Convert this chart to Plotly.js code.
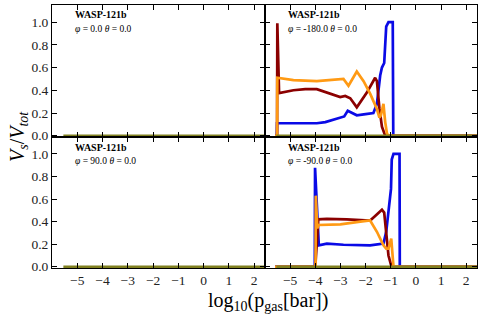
<!DOCTYPE html>
<html>
<head>
<meta charset="utf-8">
<script src="https://cdn.plot.ly/plotly-3.0.1.min.js"></script>
<style>html,body{margin:0;padding:0;background:#fff;}#chart{width:482px;height:317px;}</style>
</head>
<body>
<div id="chart"></div>
<script>
// ---- data ----
const panelTitles = ["WASP-121b", "WASP-121b", "WASP-121b", "WASP-121b"];
const panelAngles = ["<i>φ</i> = 0.0 <i>θ</i> = 0.0", "<i>φ</i> = -180.0 <i>θ</i> = 0.0",
                     "<i>φ</i> = 90.0 <i>θ</i> = 0.0", "<i>φ</i> = -90.0 <i>θ</i> = 0.0"];
const xTicks = [-5, -4, -3, -2, -1, 0, 1, 2];
const yTicks = [0, 0.2, 0.4, 0.6, 0.8, 1.0];
const yTickText = ["0.0", "0.2", "0.4", "0.6", "0.8", "1.0"];

const greenX = [-5.55, 2.5];
const greenY = [0, 0];

// phi = -180
const m180BlueX = [-5.6, -5.53, -5.52, -5.0, -4.5, -3.94, -3.6, -3.3, -3.01, -2.85, -2.71, -2.55, -2.35, -2.0, -1.69, -1.55, -1.42, -1.35, -1.26, -1.18, -1.09, -0.92, -0.90, 2.5];
const m180BlueY = [0, 0, 0.11, 0.11, 0.11, 0.11, 0.12, 0.14, 0.16, 0.17, 0.22, 0.20, 0.18, 0.19, 0.20, 0.28, 0.53, 0.60, 0.64, 0.96, 1.0, 1.0, 0, 0];
const m180RedX = [-5.6, -5.52, -5.51, -5.44, -4.87, -4.4, -3.94, -3.54, -3.01, -2.81, -2.61, -2.35, -1.95, -1.62, -1.55, -1.45, -1.35, -1.22, 2.5];
const m180RedY = [0, 0, 0.99, 0.375, 0.40, 0.41, 0.41, 0.38, 0.34, 0.35, 0.33, 0.25, 0.38, 0.51, 0.48, 0.24, 0.08, 0, 0];
const m180OrangeX = [-5.6, -5.52, -5.51, -4.87, -3.94, -3.01, -2.88, -2.68, -2.35, -2.08, -1.82, -1.55, -1.45, -1.39, -1.29, -1.22, -1.15, -1.1, 2.5];
const m180OrangeY = [0, 0, 0.51, 0.49, 0.48, 0.50, 0.50, 0.44, 0.565, 0.48, 0.37, 0.235, 0.16, 0.18, 0.28, 0.12, 0.02, 0, 0];

// phi = -90
const m90BlueX = [-5.6, -4.02, -4.01, -3.86, -3.54, -2.88, -1.82, -1.29, -1.18, -1.09, -0.99, -0.96, -0.89, -0.65, -0.64, 2.5];
const m90BlueY = [0, 0, 0.877, 0.19, 0.205, 0.195, 0.19, 0.205, 0.31, 0.48, 0.69, 0.95, 1.0, 1.0, 0, 0];
const m90RedX = [-5.6, -4.0, -3.88, -3.54, -2.75, -1.82, -1.62, -1.35, -1.26, -1.18, -1.09, -0.98, -0.95, 2.5];
const m90RedY = [0, 0, 0.42, 0.424, 0.42, 0.41, 0.45, 0.505, 0.48, 0.28, 0.10, 0.01, 0, 0];
const m90OrangeX = [-5.6, -3.99, -3.98, -3.92, -3.87, -3.0, -2.21, -1.82, -1.55, -1.29, -1.18, -1.09, -0.98, -0.89, 2.5];
const m90OrangeY = [0, 0, 0.63, 0.34, 0.37, 0.375, 0.40, 0.41, 0.31, 0.19, 0.16, 0.16, 0.25, 0, 0];

// ---- styles ----
const BLUE = "#0a0ae6", RED = "#8b0000", ORANGE = "#ff9a14", OLIVE = "#808020";
const LW = 2.7;

function line(x, y, color, xa, ya) {
  return {x: x, y: y, type: "scatter", mode: "lines", xaxis: xa, yaxis: ya,
          line: {color: color, width: LW}, hoverinfo: "skip", showlegend: false};
}

const traces = [
  line(m180BlueX, m180BlueY, BLUE, "x2", "y2"),
  line(m180RedX, m180RedY, RED, "x2", "y2"),
  line(m180OrangeX, m180OrangeY, ORANGE, "x2", "y2"),
  line(m90BlueX, m90BlueY, BLUE, "x4", "y4"),
  line(m90RedX, m90RedY, RED, "x4", "y4"),
  line(m90OrangeX, m90OrangeY, ORANGE, "x4", "y4"),
  line(greenX, greenY, OLIVE, "x", "y"),
  line(greenX, greenY, OLIVE, "x2", "y2"),
  line(greenX, greenY, OLIVE, "x3", "y3"),
  line(greenX, greenY, OLIVE, "x4", "y4")
];

// plot-area geometry (px)
const W = 482, H = 317, L = 52, R = 5, T = 5, B = 49;
const PW = W - L - R, PH = H - T - B;
const xSplit = 213 / PW, ySplit = 131 / PH;
const FONT = "'Liberation Serif', 'DejaVu Serif', serif";

function xax(domain, labels, anchor) {
  return {domain: domain, range: [-6, 2.43], anchor: anchor, tickvals: xTicks,
          showticklabels: labels, ticks: "inside", ticklen: 5, tickwidth: 1, tickcolor: "#000",
          showline: true, linecolor: "#000", linewidth: 1, mirror: "ticks",
          showgrid: false, zeroline: false, tickfont: {family: FONT, size: 13.5, color: "#222"}};
}
function yax(domain, labels, anchor) {
  return {domain: domain, range: [-0.011, 1.15], anchor: anchor, tickvals: yTicks, ticktext: yTickText,
          showticklabels: labels, ticks: "inside", ticklen: 5, tickwidth: 1, tickcolor: "#000",
          showline: true, linecolor: "#000", linewidth: 1, mirror: "ticks",
          showgrid: false, zeroline: false, tickfont: {family: FONT, size: 13.5, color: "#222"}};
}

function px2x(px) { return (px - L) / PW; }
function px2y(py) { return (H - B - py) / PH; }

const panelPos = [[52, 5], [265, 5], [52, 137], [265, 137]];
const annotations = [];
panelPos.forEach((p, i) => {
  annotations.push({xref: "paper", yref: "paper", x: px2x(p[0] + 21), y: px2y(p[1] + 10),
    xanchor: "left", yanchor: "middle", showarrow: false, text: "<b>" + panelTitles[i] + "</b>",
    font: {family: FONT, size: 10, color: "#000"}});
  annotations.push({xref: "paper", yref: "paper", x: px2x(p[0] + 21), y: px2y(p[1] + 24),
    xanchor: "left", yanchor: "middle", showarrow: false, text: panelAngles[i],
    font: {family: FONT, size: 9.5, color: "#000"}});
});
annotations.push({xref: "paper", yref: "paper", x: px2x(18), y: px2y(137), textangle: -90,
  xanchor: "center", yanchor: "middle", showarrow: false,
  text: "<i>V<sub>s</sub></i>/<i>V<sub>tot</sub></i>", font: {family: FONT, size: 20, color: "#000"}});
annotations.push({xref: "paper", yref: "paper", x: px2x(268), y: px2y(301),
  xanchor: "center", yanchor: "middle", showarrow: false,
  text: "log<sub>10</sub>(p<sub>gas</sub>[bar])", font: {family: FONT, size: 20, color: "#000"}});

const layout = {
  width: W, height: H, margin: {l: L, r: R, t: T, b: B},
  paper_bgcolor: "#fff", plot_bgcolor: "#fff", showlegend: false,
  xaxis: xax([0, xSplit], false, "y"),  yaxis: yax([ySplit, 1], true, "x"),
  xaxis2: xax([xSplit, 1], false, "y2"), yaxis2: yax([ySplit, 1], false, "x2"),
  xaxis3: xax([0, xSplit], true, "y3"),  yaxis3: yax([0, ySplit], true, "x3"),
  xaxis4: xax([xSplit, 1], true, "y4"),  yaxis4: yax([0, ySplit], false, "x4"),
  annotations: annotations
};

Plotly.newPlot("chart", traces, layout, {staticPlot: true, displayModeBar: false});
</script>
</body>
</html>
